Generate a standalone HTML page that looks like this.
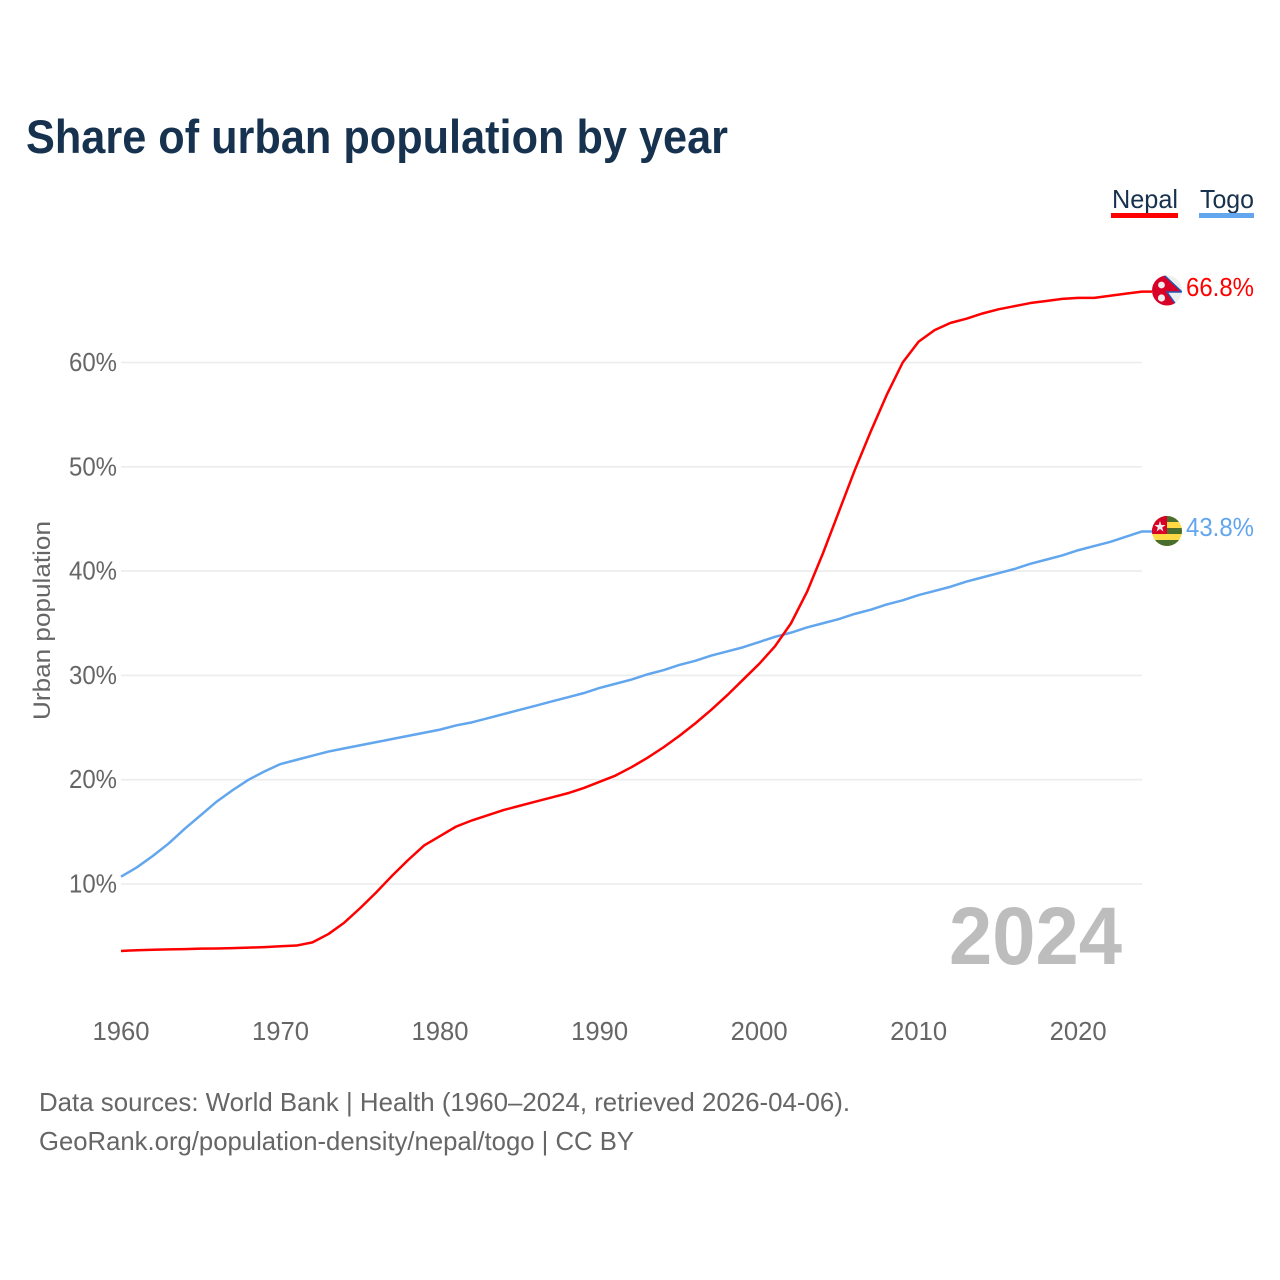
<!DOCTYPE html>
<html>
<head>
<meta charset="utf-8">
<style>
html,body{margin:0;padding:0;background:#fff;}
svg{display:block;font-family:"Liberation Sans",sans-serif;}
</style>
</head>
<body>
<svg id="chart" width="1280" height="1280" viewBox="0 0 1280 1280" xmlns="http://www.w3.org/2000/svg">
<rect width="1280" height="1280" fill="#fff"/>
<text x="26" y="153" font-size="47" font-weight="700" fill="#17324f" textLength="702" lengthAdjust="spacingAndGlyphs">Share of urban population by year</text>
<g id="grid"></g>
<g id="ylabels"></g>
<g id="xlabels"></g>
<text transform="translate(50,720) rotate(-90)" font-size="24" fill="#666" textLength="199" lengthAdjust="spacingAndGlyphs">Urban population</text>
<text x="949" y="964" font-size="82" font-weight="700" fill="#bdbdbd" textLength="173" lengthAdjust="spacingAndGlyphs">2024</text>
<g id="series"></g>

<g>
<text x="1112" y="208" font-size="26" fill="#17324f" textLength="66" lengthAdjust="spacingAndGlyphs">Nepal</text>
<rect x="1111" y="213" width="67" height="5" fill="#ff0000"/>
</g>
<g>
<text x="1200" y="208" font-size="26" fill="#17324f" textLength="54" lengthAdjust="spacingAndGlyphs">Togo</text>
<rect x="1199" y="213" width="55" height="5" fill="#62a6ee"/>
</g>

<defs>
<clipPath id="clip-np"><circle cx="1167" cy="290.5" r="15"/></clipPath>
<clipPath id="clip-tg"><circle cx="1167" cy="531" r="15"/></clipPath>
</defs>
<g clip-path="url(#clip-np)">
<rect x="1152" y="275" width="30" height="31" fill="#eeeeee"/>
<polygon points="1152,275 1164,275 1182,292 1167,292 1177,306 1152,306" fill="#d80027"/>
<polyline points="1164,275 1182,292 1167,292 1177,306" fill="none" stroke="#1f57b5" stroke-width="1.4"/>
<circle cx="1161.5" cy="285" r="3.4" fill="#eeeeee"/>
<circle cx="1161.5" cy="298" r="3.6" fill="#eeeeee"/>
</g>
<g clip-path="url(#clip-tg)">
<rect x="1152" y="516" width="30" height="30" fill="#ffda44"/>
<rect x="1152" y="516" width="30" height="6" fill="#496e2d"/>
<rect x="1152" y="528" width="30" height="6" fill="#496e2d"/>
<rect x="1152" y="540" width="30" height="6" fill="#496e2d"/>
<rect x="1152" y="516" width="15" height="18" fill="#d80027"/>
<polygon points="1160,521 1161.4,525 1165.5,525 1162.2,527.5 1163.4,531.5 1160,529 1156.6,531.5 1157.8,527.5 1154.5,525 1158.6,525" fill="#eeeeee"/>
</g>

<text x="1186" y="296" font-size="26" fill="#ff0000" textLength="68" lengthAdjust="spacingAndGlyphs">66.8%</text>
<text x="1186" y="536" font-size="26" fill="#62a6ee" textLength="68" lengthAdjust="spacingAndGlyphs">43.8%</text>

<text x="39" y="1111" font-size="26" fill="#666" textLength="811" lengthAdjust="spacingAndGlyphs">Data sources: World Bank | Health (1960–2024, retrieved 2026-04-06).</text>
<text x="39" y="1150" font-size="26" fill="#666" textLength="595" lengthAdjust="spacingAndGlyphs">GeoRank.org/population-density/nepal/togo | CC BY</text>
</svg>
<script>
const startYear = 1960;
const yTicks = [10, 20, 30, 40, 50, 60];
const xTicks = [1960, 1970, 1980, 1990, 2000, 2010, 2020];
const nepalValues = [3.58,3.65,3.7,3.73,3.76,3.8,3.82,3.85,3.9,3.95,4.03,4.1,4.4,5.2,6.3,7.7,9.2,10.8,12.3,13.7,14.6,15.5,16.1,16.6,17.1,17.5,17.9,18.3,18.7,19.2,19.8,20.4,21.2,22.1,23.1,24.2,25.4,26.7,28.1,29.6,31.1,32.8,35.0,38.0,41.7,45.7,49.7,53.4,56.9,60.0,62.0,63.1,63.8,64.2,64.7,65.1,65.4,65.7,65.9,66.1,66.2,66.2,66.4,66.6,66.8];
const togoValues = [10.7,11.6,12.7,13.9,15.3,16.6,17.9,19.0,20.0,20.8,21.5,21.9,22.3,22.7,23.0,23.3,23.6,23.9,24.2,24.5,24.8,25.2,25.5,25.9,26.3,26.7,27.1,27.5,27.9,28.3,28.8,29.2,29.6,30.1,30.5,31.0,31.4,31.9,32.3,32.7,33.2,33.7,34.1,34.6,35.0,35.4,35.9,36.3,36.8,37.2,37.7,38.1,38.5,39.0,39.4,39.8,40.2,40.7,41.1,41.5,42.0,42.4,42.8,43.3,43.8];

const NS = 'http://www.w3.org/2000/svg';
function xScale(year) { return 121 + (year - 1960) * 15.953; }
function yScale(v) { return 988.3 - v * 10.43; }

const grid = document.getElementById('grid');
const ylabels = document.getElementById('ylabels');
const xlabels = document.getElementById('xlabels');
const series = document.getElementById('series');

yTicks.forEach(function (t) {
  const line = document.createElementNS(NS, 'line');
  line.setAttribute('x1', 121);
  line.setAttribute('x2', 1142);
  line.setAttribute('y1', yScale(t));
  line.setAttribute('y2', yScale(t));
  line.setAttribute('stroke', '#ececec');
  line.setAttribute('stroke-width', 1.6);
  
  
  grid.appendChild(line);

  const label = document.createElementNS(NS, 'text');
  label.setAttribute('x', 117);
  label.setAttribute('y', yScale(t) + 8.5);
  label.setAttribute('text-anchor', 'end');
  label.setAttribute('font-size', 26);
  label.setAttribute('fill', '#666');
  label.setAttribute('textLength', 48);
  label.setAttribute('lengthAdjust', 'spacingAndGlyphs');
  label.textContent = t + '%';
  
  
  ylabels.appendChild(label);
});

xTicks.forEach(function (t) {
  const label = document.createElementNS(NS, 'text');
  label.setAttribute('x', xScale(t));
  label.setAttribute('y', 1040);
  label.setAttribute('text-anchor', 'middle');
  label.setAttribute('font-size', 26);
  label.setAttribute('fill', '#666');
  label.setAttribute('textLength', 57);
  label.setAttribute('lengthAdjust', 'spacingAndGlyphs');
  label.textContent = t;
  
  
  xlabels.appendChild(label);
});

function pathFor(values) {
  const pts = values.map(function (v, i) {
    return xScale(startYear + i).toFixed(2) + ',' + yScale(v).toFixed(2);
  });
  pts.push('1152,' + yScale(values[values.length - 1]).toFixed(2));
  return 'M' + pts.join('L');
}

const togoLine = document.createElementNS(NS, 'path');
togoLine.setAttribute('d', pathFor(togoValues));
togoLine.setAttribute('fill', 'none');
togoLine.setAttribute('stroke', '#62a6ee');
togoLine.setAttribute('stroke-width', 2.5);
togoLine.setAttribute('stroke-linejoin', 'round');


series.appendChild(togoLine);

const nepalLine = document.createElementNS(NS, 'path');
nepalLine.setAttribute('d', pathFor(nepalValues));
nepalLine.setAttribute('fill', 'none');
nepalLine.setAttribute('stroke', '#ff0000');
nepalLine.setAttribute('stroke-width', 2.5);
nepalLine.setAttribute('stroke-linejoin', 'round');


series.appendChild(nepalLine);
</script>
</body>
</html>
